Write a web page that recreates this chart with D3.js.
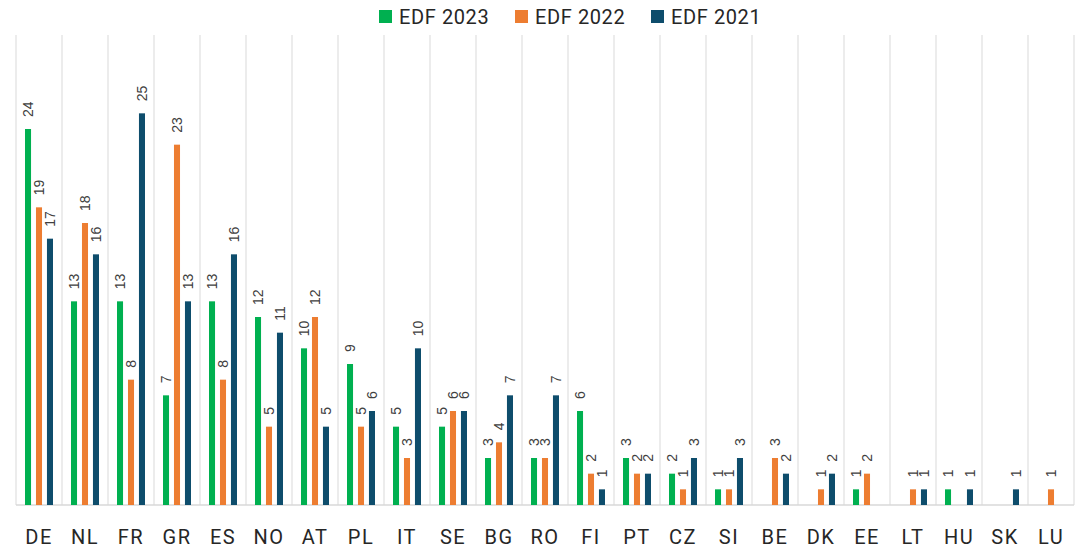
<!DOCTYPE html>
<html>
  <head>
    <meta charset="utf-8">
    <title>EDF by country</title>
    <script src="https://cdn.jsdelivr.net/npm/d3@7"></script>
    <style>
      body { margin: 0; background: #fff; }
      .bar-label { font-family: "Liberation Sans", Arial, sans-serif; font-size: 14px; fill: #404040; }
      .axis-text { font-family: Roboto, "Liberation Sans", sans-serif; font-size: 20px; letter-spacing: 1.5px; fill: #262626; }
      .legend-text { font-family: Roboto, "Liberation Sans", sans-serif; font-size: 20px; letter-spacing: 0.6px; fill: #262626; }
    </style>
  </head>
  <body>
    <svg id="chart" width="1082" height="551"></svg>
    <script>
    var countries = ["DE","NL","FR","GR","ES","NO","AT","PL","IT","SE","BG","RO","FI","PT","CZ","SI","BE","DK","EE","LT","HU","SK","LU"];
    var seriesNames = ["EDF 2023", "EDF 2022", "EDF 2021"];
    var edf2023 = [24,13,13,7,13,12,10,9,5,5,3,3,6,3,2,1,0,0,1,0,1,0,0];
    var edf2022 = [19,18,8,23,8,5,12,5,3,6,4,3,2,2,1,1,3,1,2,1,0,0,1];
    var edf2021 = [17,16,25,13,16,11,5,6,10,6,7,7,1,2,3,3,2,2,0,1,1,1,0];
    var colors = ["#00B050", "#ED7D31", "#0E4D6C"];

    var values = [edf2023, edf2022, edf2021];
    var data = countries.map(function(c, i) {
      return {country: c, vals: values.map(function(v, k) { return {key: seriesNames[k], k: k, value: v[i]}; })};
    });

    var margin = {top: 35, right: 8, bottom: 46, left: 16};
    var width = 1082 - margin.left - margin.right;
    var height = 551 - margin.top - margin.bottom;

    var svg = d3.select("#chart");
    var g = svg.append("g").attr("transform", "translate(" + margin.left + "," + margin.top + ")");

    var x0 = d3.scaleBand().domain(countries).range([0, width]).padding(0);
    var x1 = d3.scaleBand().domain(seriesNames).range([0, 28]).paddingInner(0.45).paddingOuter(0);
    var y = d3.scaleLinear().domain([0, 30]).range([height, 0]);

    // vertical grid lines at category boundaries
    g.append("g").selectAll("line")
      .data(d3.range(countries.length + 1))
      .enter().append("line")
      .attr("x1", function(i) { return i * x0.bandwidth(); })
      .attr("x2", function(i) { return i * x0.bandwidth(); })
      .attr("y1", 0).attr("y2", height)
      .attr("stroke", "#d9d9d9").attr("stroke-width", 1);

    g.append("line")
      .attr("x1", 0).attr("x2", width)
      .attr("y1", height).attr("y2", height)
      .attr("stroke", "#d9d9d9").attr("stroke-width", 1.5);

    var groupOffset = (x0.bandwidth() - 28) / 2;

    var groups = g.append("g").selectAll("g")
      .data(data)
      .enter().append("g")
      .attr("transform", function(d) { return "translate(" + (x0(d.country) + groupOffset) + ",0)"; });

    groups.selectAll("rect")
      .data(function(d) { return d.vals.filter(function(v) { return v.value > 0; }); })
      .enter().append("rect")
      .attr("x", function(d) { return x1(d.key); })
      .attr("width", x1.bandwidth())
      .attr("y", function(d) { return y(d.value); })
      .attr("height", function(d) { return height - y(d.value); })
      .attr("fill", function(d) { return colors[d.k]; });

    groups.selectAll("text")
      .data(function(d) { return d.vals.filter(function(v) { return v.value > 0; }); })
      .enter().append("text")
      .attr("class", "bar-label")
      .attr("transform", function(d) {
        return "translate(" + (x1(d.key) + x1.bandwidth() / 2 + 5) + "," + (y(d.value) - 12) + ") rotate(-90)";
      })
      .attr("text-anchor", "start")
      .text(function(d) { return d.value; });

    // category axis
    g.append("g")
      .attr("transform", "translate(0," + height + ")")
      .selectAll("text")
      .data(countries)
      .enter().append("text")
      .attr("class", "axis-text")
      .attr("x", function(d) { return x0(d) + x0.bandwidth() / 2; })
      .attr("y", 39)
      .attr("text-anchor", "middle")
      .text(function(d) { return d; });

    // legend
    var legendX = [379, 515, 651];
    var legend = svg.append("g").selectAll("g")
      .data(seriesNames)
      .enter().append("g")
      .attr("transform", function(d, i) { return "translate(" + legendX[i] + ",10)"; });
    legend.append("rect").attr("width", 13).attr("height", 13)
      .attr("fill", function(d, i) { return colors[i]; });
    legend.append("text").attr("class", "legend-text")
      .attr("x", 20).attr("y", 14)
      .text(function(d) { return d; });
    </script>
  </body>
</html>
